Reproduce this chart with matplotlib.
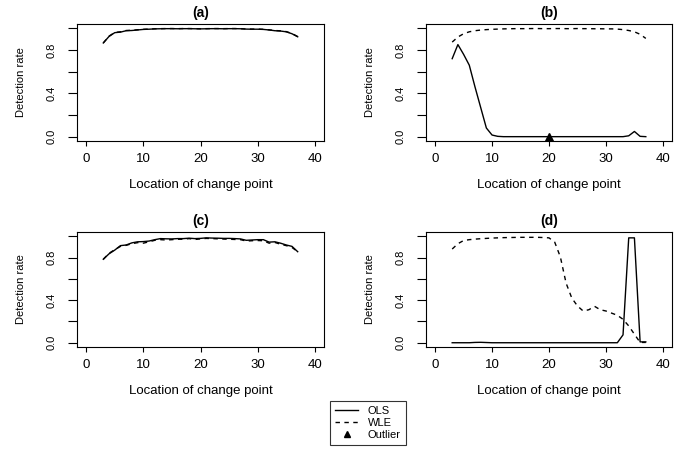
import numpy as np
import matplotlib
matplotlib.use("Agg")
import matplotlib.pyplot as plt
from matplotlib.lines import Line2D

plt.rcParams['font.family'] = ['Liberation Sans', 'DejaVu Sans']

# change point locations
loc = list(range(3, 38))

a_ols = [0.865, 0.925, 0.960, 0.965, 0.978, 0.980, 0.985, 0.990, 0.992, 0.995,
         0.996, 0.997, 0.997, 0.996, 0.997, 0.997, 0.996, 0.995, 0.996, 0.997,
         0.997, 0.996, 0.997, 0.997, 0.996, 0.993, 0.992, 0.992, 0.990, 0.985,
         0.978, 0.975, 0.968, 0.950, 0.922]
a_wle = [0.865, 0.928, 0.962, 0.968, 0.980, 0.982, 0.987, 0.991, 0.993, 0.996,
         0.997, 0.998, 0.998, 0.997, 0.998, 0.998, 0.997, 0.996, 0.997, 0.998,
         0.998, 0.997, 0.998, 0.998, 0.997, 0.994, 0.993, 0.993, 0.991, 0.986,
         0.980, 0.977, 0.970, 0.952, 0.924]

b_ols = [0.72, 0.85, 0.76, 0.66, 0.46, 0.27, 0.08, 0.015, 0.003, 0.0,
         0.0, 0.0, 0.0, 0.0, 0.0, 0.0, 0.0, 0.0, 0.0, 0.0,
         0.0, 0.0, 0.0, 0.0, 0.0, 0.0, 0.0, 0.0, 0.0, 0.0,
         0.0, 0.008, 0.048, 0.003, 0.0]
b_wle = [0.873, 0.920, 0.950, 0.968, 0.978, 0.984, 0.988, 0.991, 0.993, 0.995,
         0.996, 0.997, 0.997, 0.997, 0.998, 0.998, 0.997, 0.997, 0.998, 0.998,
         0.997, 0.997, 0.998, 0.997, 0.997, 0.996, 0.996, 0.995, 0.995, 0.993,
         0.988, 0.980, 0.968, 0.945, 0.907]
b_outlier = (20, 0.0)

c_ols = [0.784, 0.835, 0.870, 0.912, 0.918, 0.938, 0.948, 0.950, 0.955, 0.968,
         0.978, 0.976, 0.975, 0.978, 0.978, 0.982, 0.978, 0.980, 0.985, 0.983,
         0.982, 0.980, 0.980, 0.978, 0.975, 0.962, 0.965, 0.968, 0.968, 0.945,
         0.948, 0.935, 0.918, 0.905, 0.855]
c_wle = [0.784, 0.840, 0.874, 0.905, 0.915, 0.930, 0.940, 0.935, 0.948, 0.962,
         0.968, 0.965, 0.968, 0.972, 0.972, 0.978, 0.970, 0.975, 0.980, 0.978,
         0.976, 0.974, 0.972, 0.970, 0.968, 0.955, 0.958, 0.960, 0.958, 0.935,
         0.942, 0.925, 0.912, 0.895, 0.855]

d_ols = [0.0, 0.0, 0.0, 0.0, 0.003, 0.004, 0.002, 0.0, 0.0, 0.0,
         0.0, 0.0, 0.0, 0.0, 0.0, 0.0, 0.0, 0.0, 0.0, 0.0,
         0.0, 0.0, 0.0, 0.0, 0.0, 0.0, 0.0, 0.0, 0.0, 0.0,
         0.074, 0.985, 0.985, 0.008, 0.008]
d_wle = [0.880, 0.930, 0.960, 0.968, 0.973, 0.977, 0.980, 0.983, 0.985, 0.987,
         0.988, 0.989, 0.990, 0.990, 0.990, 0.990, 0.988, 0.985, 0.945, 0.805,
         0.560, 0.420, 0.345, 0.298, 0.310, 0.342, 0.310, 0.298, 0.278, 0.258,
         0.220, 0.158, 0.080, 0.003, 0.003]

panels = [
    ('(a)', a_ols, a_wle, None),
    ('(b)', b_ols, b_wle, b_outlier),
    ('(c)', c_ols, c_wle, None),
    ('(d)', d_ols, d_wle, None),
]

W, H = 687, 450
fig = plt.figure(figsize=(W / 100, H / 100), dpi=100)

# axes boxes in pixels: left, top, right, bottom
boxes = [(77, 24, 324, 141), (426, 24, 672, 141),
         (77, 232, 324, 347), (426, 232, 672, 347)]

dash = (3.2, 3.2)
for (title, ols, wle, outl), (l, t, r, b) in zip(panels, boxes):
    ax = fig.add_axes([l / W, 1 - b / H, (r - l) / W, (b - t) / H])
    hpx = b - t
    ax.plot(loc, ols, color='black', lw=1.0)
    ax.plot(loc, wle, color='black', lw=1.0, ls=(0, dash))
    if outl is not None:
        ax.plot([outl[0]], [outl[1]], marker='^', color='black', ms=5.5, ls='none')
    ax.set_xlim(-1.6, 41.6)
    ax.set_ylim(-0.04, 1.04)
    ax.set_xticks([0, 10, 20, 30, 40])
    ax.set_yticks([0.0, 0.2, 0.4, 0.6, 0.8, 1.0])
    ax.set_yticklabels(['0.0', '', '0.4', '', '0.8', ''])
    for s in ax.spines.values():
        s.set_linewidth(0.8)
    ax.tick_params(axis='x', length=3.6, width=0.8, pad=5, labelsize=9.5)
    ax.tick_params(axis='y', length=6.5, width=0.8, pad=8, labelsize=8)
    for lbl in ax.get_yticklabels():
        lbl.set_rotation(90)
        lbl.set_va('center')
    ax.set_xlabel('Location of change point', fontsize=9.5, va='center')
    ax.xaxis.set_label_coords(0.5, -44 / hpx)
    ax.set_ylabel('Detection rate', fontsize=8, va='center')
    ax.yaxis.set_label_coords(-56 / (r - l), 0.5)
    ax.text(0.5, 1 + 11.5 / hpx, title, transform=ax.transAxes, ha='center',
            va='center', fontsize=10, fontweight='bold')

handles = [Line2D([], [], color='black', lw=1.0),
           Line2D([], [], color='black', lw=1.0, ls=(0, dash)),
           Line2D([], [], color='black', marker='^', ms=5, ls='none')]
leg = fig.legend(handles, ['OLS', 'WLE', 'Outlier'], loc='center',
                 bbox_to_anchor=(368 / W, 1 - 423 / H), fontsize=8,
                 frameon=True, fancybox=False, edgecolor='black',
                 handlelength=2.0, handletextpad=0.9, labelspacing=0.15,
                 borderpad=0.45, borderaxespad=0)
leg.get_frame().set_linewidth(0.8)

fig.savefig('out.png', dpi=100)
